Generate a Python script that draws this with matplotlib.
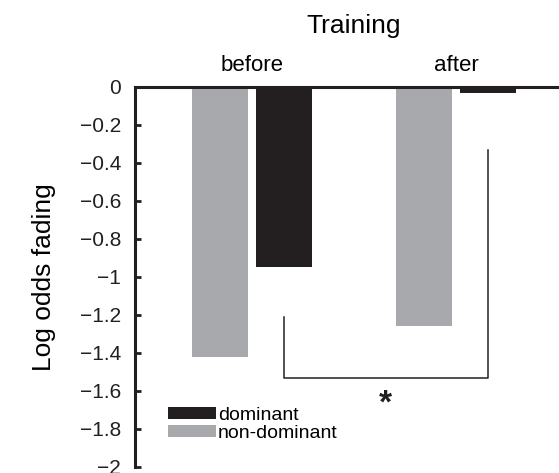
import matplotlib
matplotlib.use('Agg')
import matplotlib.pyplot as plt
from matplotlib.patches import Patch

plt.rcParams['font.family'] = ['Liberation Sans', 'DejaVu Sans']

# Log odds of fading, per training stage and hand
stages = ['before', 'after']
non_dominant = [-1.42, -1.26]
dominant = [-0.95, -0.03]
yticks = [0, -0.2, -0.4, -0.6, -0.8, -1, -1.2, -1.4, -1.6, -1.8, -2]
ytick_labels = ['0', '\u22120.2', '\u22120.4', '\u22120.6', '\u22120.8', '\u22121',
                '\u22121.2', '\u22121.4', '\u22121.6', '\u22121.8', '\u22122']
# bracket between the dominant bars: top of left leg, top of right leg, base
bracket_y = [-1.21, -0.33, -1.53]

BLACK = '#231f20'
GRAY = '#a7a9ac'

fig = plt.figure(figsize=(5.59, 4.73), dpi=100)
ax = fig.add_axes([0.2415, 0.0127, 0.7585, 0.8034])

x = range(len(stages))
w = 0.275
off = 0.155
ax.bar([i - off for i in x], non_dominant, width=w, color=GRAY, align='center')
ax.bar([i + off for i in x], dominant, width=w, color=BLACK, align='center')

ax.set_xlim(-0.574, 1.505)
ax.set_ylim(-2, 0)

# spines: only left and top
for s in ['right', 'bottom']:
    ax.spines[s].set_visible(False)
for s in ['left', 'top']:
    ax.spines[s].set_linewidth(2.2)
    ax.spines[s].set_color(BLACK)

ax.set_yticks(yticks)
ax.set_yticklabels(ytick_labels, fontsize=15)
ax.tick_params(axis='y', direction='in', length=4, width=2, pad=10, colors=BLACK)

ax.xaxis.tick_top()
ax.set_xticks(list(x))
ax.set_xticklabels(stages, fontsize=16)
ax.tick_params(axis='x', length=0, pad=8)

ax.set_ylabel('Log odds fading', fontsize=19)
ax.yaxis.set_label_coords(-0.187, 0.5)

ax.text(0.5, 1.16, 'Training', transform=ax.get_xaxis_transform(),
        ha='center', va='center', fontsize=19)

# significance bracket
x1, x2 = 0 + off, 1 + off
ax.plot([x1, x1, x2, x2], [bracket_y[0], bracket_y[2], bracket_y[2], bracket_y[1]],
        color=BLACK, lw=1.1, clip_on=False)
ax.text((x1 + x2) / 2, -1.67, '*', ha='center', va='center', fontsize=24,
        fontweight='bold', color=BLACK)

handles = [Patch(facecolor=BLACK, label='dominant'),
           Patch(facecolor=GRAY, label='non-dominant')]
ax.legend(handles=handles, loc='upper left', bbox_to_anchor=(0.3005, 0.1395),
          bbox_transform=fig.transFigure, frameon=False, fontsize=14,
          handlelength=2.47, handleheight=0.6, handletextpad=0.1,
          labelspacing=0.05, borderpad=0, borderaxespad=0)

fig.savefig('out.png', dpi=100)
